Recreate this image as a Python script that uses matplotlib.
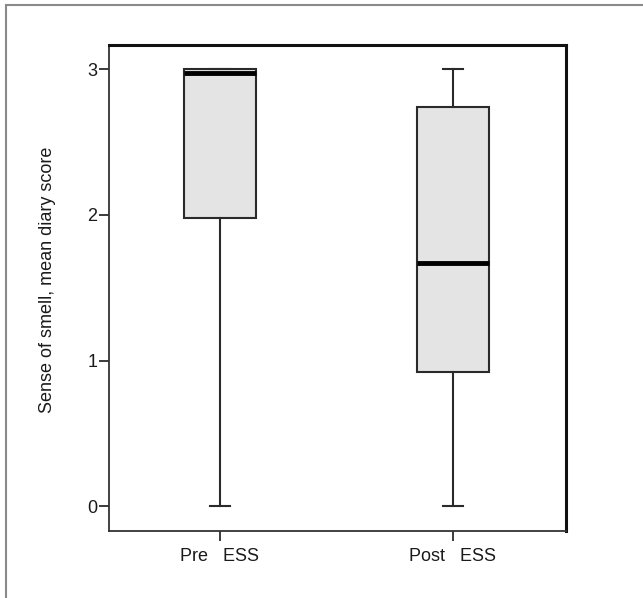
import matplotlib.pyplot as plt
from matplotlib.patches import Rectangle

plt.rcParams['font.family'] = ['Liberation Sans', 'DejaVu Sans']

groups = ['Pre   ESS', 'Post   ESS']
whisker_low = [0.0, 0.0]
q1 = [1.98, 0.92]
median = [2.97, 1.67]
q3 = [3.0, 2.74]
whisker_high = [3.0, 3.0]

stats = []
for i, name in enumerate(groups):
    stats.append({
        'label': name,
        'whislo': whisker_low[i],
        'q1': q1[i],
        'med': median[i],
        'q3': q3[i],
        'whishi': whisker_high[i],
        'fliers': [],
    })

fig = plt.figure(figsize=(6.43, 5.98), dpi=100)
ax = fig.add_axes([0.1695, 0.112, 0.7105, 0.8127])

ax.bxp(
    stats,
    positions=[1, 2],
    widths=0.31,
    patch_artist=True,
    showfliers=False,
    boxprops=dict(facecolor='#e4e4e4', edgecolor='#2a2a2a', linewidth=1.5),
    medianprops=dict(color='black', linewidth=3.5),
    whiskerprops=dict(color='#2a2a2a', linewidth=1.5),
    capprops=dict(color='#2a2a2a', linewidth=1.5),
    capwidths=0.085,
)

ax.set_xlim(0.524, 2.485)
ax.set_ylim(-0.17, 3.165)
ax.set_yticks([0, 1, 2, 3])
ax.set_xticks([1, 2])
ax.set_xticklabels(groups)
ax.tick_params(axis='both', direction='out', length=7, width=1.2, labelsize=13, colors='#1a1a1a')
ax.tick_params(axis='x', pad=5)
ax.tick_params(axis='y', pad=1.5)

for side in ['left', 'bottom']:
    ax.spines[side].set_linewidth(1.3)
    ax.spines[side].set_color('#333333')
for side in ['top', 'right']:
    ax.spines[side].set_linewidth(2.2)
    ax.spines[side].set_color('#111111')

ax.set_ylabel('Sense of smell, mean diary score', fontsize=13, color='#1a1a1a')
ax.yaxis.set_label_coords(-0.117, 0.516)

# thin gray frame around the figure (cut off at right and bottom)
fig.patches.append(Rectangle((6 / 643, -0.1), 1.2, 1 - 5 / 598 + 0.1,
                             transform=fig.transFigure, fill=False,
                             edgecolor='#8a8a8a', linewidth=1.5))

fig.savefig('out.png', dpi=100)
